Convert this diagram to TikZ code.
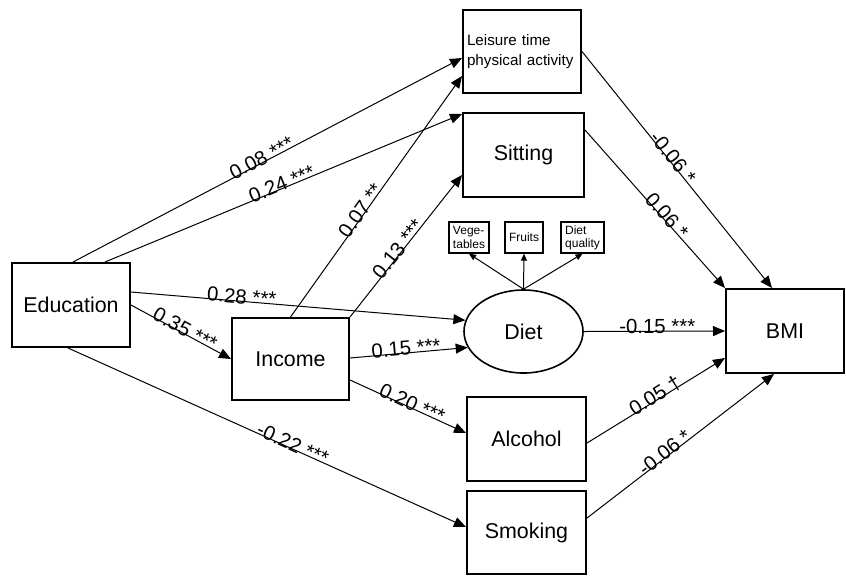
\documentclass[tikz,border=0pt]{standalone}
\usepackage{fontspec}
\setmainfont{Liberation Sans}
\usetikzlibrary{arrows.meta,shapes.geometric}

\newcommand{\coeftext}[1]{\raisebox{-1.2pt}{#1}}

\tikzset{
  box/.style={draw, line width=1pt, minimum width=59pt, minimum height=42pt,
    inner sep=1pt, font=\fontsize{10.7}{12}\selectfont},
  indbox/.style={draw, line width=0.7pt, minimum width=20pt, minimum height=15.5pt,
    inner sep=1pt, align=left, font=\fontsize{6}{6.6}\selectfont},
  link/.style={line width=0.5pt, -{Triangle[length=6pt,width=5pt]}},
  loadlink/.style={line width=0.5pt, -{Triangle[length=3.5pt,width=3pt]}},
  coef/.style={sloped, anchor=base, inner sep=0pt, font=\fontsize{10.2}{12}\selectfont},
}

\begin{document}
\begin{tikzpicture}[x=0.5pt, y=-0.5pt]
      \useasboundingbox (0,0) rectangle (846,575);

      % Draw the boxes
      \node[box] (edu) at (71,305) {Education};
      \node[box, minimum width=58.5pt, minimum height=41pt] (inc) at (290.5,359) {Income};
      \node[box, minimum height=41.5pt, text width=55pt, align=left, inner xsep=2pt,
        font=\fontsize{7.6}{10}\selectfont] (lei) at (522,51.5) {Leisure time\\physical activity};
      \node[box, minimum width=60.5pt] (sit) at (523.5,155) {Sitting};
      \node[draw, ellipse, line width=0.8pt, inner sep=0pt, minimum width=59.5pt,
        minimum height=41.5pt, font=\fontsize{10.7}{12}\selectfont] (diet) at (523.5,331.5) {Diet};
      \node[box, minimum width=59.5pt] (alc) at (526.5,439) {Alcohol};
      \node[box, minimum width=59.5pt, minimum height=41.5pt] (smk) at (526.5,532.5) {Smoking};
      \node[box] (bmi) at (785,331) {BMI};

      % Draw the diet indicators
      \node[indbox] (veg) at (469,237.5) {Vege-\\tables};
      \node[indbox, minimum width=19pt] (fru) at (524,237.5) {Fruits};
      \node[indbox, minimum width=21.5pt] (dq) at (582.5,237.5) {Diet\\quality};
      \foreach \ind in {veg, fru, dq} {
          \draw[loadlink] (diet.north) -- (\ind.south);
      }

      % Paths from education
      \draw[link] ([xshift=1pt]edu.north) -- node[coef, pos=0.49] {\coeftext{0.08 ***}} ([yshift=-3.25pt]lei.west);
      \draw[link] ([xshift=17pt]edu.north) -- node[coef, pos=0.5] {\coeftext{0.24 ***}} ([yshift=-1pt]sit.north west);
      \draw[link] ([yshift=6.5pt]edu.east) -- node[coef, pos=0.33] {\coeftext{0.28 ***}} (diet.169);
      \draw[link] (edu.east) -- node[coef, pos=0.52] {\coeftext{0.35 ***}} (inc.west);
      \draw[link] ([xshift=-1.5pt]edu.south) -- node[coef, pos=0.56] {\coeftext{-0.22 ***}} ([yshift=2.75pt]smk.west);

      % Paths from income
      \draw[link] (inc.north) -- node[coef, pos=0.43] {\coeftext{0.07 **}} ([yshift=-12.25pt]lei.west);
      \draw[link] (inc.north east) -- node[coef, pos=0.46] {\coeftext{0.13 ***}} ([yshift=-10pt]sit.west);
      \draw[link] ([yshift=0.5pt]inc.east) -- node[coef, pos=0.48] {\coeftext{0.15 ***}} (diet.196);
      \draw[link] ([yshift=-10.5pt]inc.east) -- node[coef, pos=0.52] {\coeftext{0.20 ***}} ([yshift=3pt]alc.west);

      % Paths to BMI
      \draw[link] (lei.east) -- node[coef, pos=0.46] {\coeftext{-0.06 *}} ([xshift=-6.5pt]bmi.north);
      \draw[link] ([yshift=12.5pt]sit.east) -- node[coef, pos=0.56] {\coeftext{0.06 *}} (bmi.north west);
      \draw[link] (diet.east) -- node[coef, pos=0.52] {\coeftext{-0.15 ***}} (bmi.west);
      \draw[link] ([yshift=-2pt]alc.east) -- node[coef, pos=0.51] {\coeftext{0.05 †}} ([yshift=-13.5pt]bmi.west);
      \draw[link] ([yshift=7.25pt]smk.east) -- node[coef, pos=0.43] {\coeftext{-0.06 *}} ([xshift=-5.5pt]bmi.south);
\end{tikzpicture}
\end{document}
